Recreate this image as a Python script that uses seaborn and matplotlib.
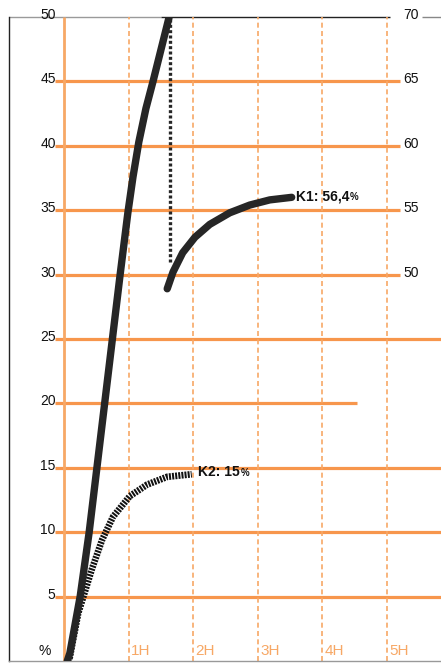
import numpy as np
import pandas as pd
import matplotlib
matplotlib.use("Agg")
import matplotlib.pyplot as plt
import seaborn as sns

# -----------------------------
# DATA
# -----------------------------

# left axis ticks (%), right axis ticks shown for the upper part
left_ticks = [5, 10, 15, 20, 25, 30, 35, 40, 45, 50]
right_ticks = [50, 55, 60, 65, 70]          # right scale = left + 20
right_offset = 20
hours = [1, 2, 3, 4, 5]
hour_labels = ["1H", "2H", "3H", "4H", "5H"]

# K1 first part (left scale)
k1a_h = [0.05, 0.09, 0.25, 0.39, 0.51, 0.63, 0.75, 0.87, 0.99, 1.07, 1.16, 1.27, 1.38, 1.50, 1.63]
k1a_y = [0, 0.6, 5, 10, 15, 20, 25, 30, 34.8, 37.6, 40.3, 42.9, 45.0, 47.4, 50]

# K1 second part (right scale, 50..56.4)
k1b_h = [1.60, 1.69, 1.84, 2.03, 2.26, 2.57, 2.88, 3.19, 3.53]
k1b_y = [48.9, 50.2, 51.7, 52.9, 53.9, 54.8, 55.4, 55.8, 56.0]

# K2 (left scale)
k2_h = [0.06, 0.09, 0.22, 0.30, 0.43, 0.59, 0.76, 1.02, 1.29, 1.60, 1.98]
k2_y = [0, 0.3, 3.7, 5.0, 7.1, 9.4, 11.2, 12.8, 13.7, 14.3, 14.5]

orange = "#F7964C"
orange_light = "#F7A866"
dark = "#262626"

# -----------------------------
# FIGURE
# -----------------------------

sns.set_style("white")
plt.rcParams["font.family"] = ["Liberation Sans", "DejaVu Sans"]

fig = plt.figure(figsize=(4.41, 6.63), dpi=100)
ax = fig.add_axes([9 / 441, 2 / 663, 432 / 441, 644 / 663])

x0 = -0.853
x1 = 5.845
ax.set_xlim(x0, x1)
ax.set_ylim(0, 50)
ax.set_xticks([])
ax.set_yticks([])

for s in ["top", "right"]:
    ax.spines[s].set_visible(False)
ax.spines["left"].set_color("#222222")
ax.spines["left"].set_linewidth(1.0)
ax.spines["bottom"].set_color("#999999")
ax.spines["bottom"].set_linewidth(1.0)

# horizontal grid lines
line_end = {5: x1, 10: x1, 15: x1, 20: 4.54, 25: x1, 30: 5.21, 35: 5.21, 40: 5.21, 45: 5.21}
for v in left_ticks[:-1]:
    ax.hlines(v, -0.14, line_end[v], color=orange, lw=2.3, zorder=1)

# top line
ax.hlines(50, x0, 1.5, color="#9a9a9a", lw=1.0, zorder=1, clip_on=False)
ax.hlines(50, 1.5, 5.05, color="#222222", lw=1.0, zorder=1, clip_on=False)
ax.hlines(50, 5.55, x1, color="#888888", lw=1.0, zorder=1, clip_on=False)

# vertical lines
ax.vlines(0, 0, 50, color=orange_light, lw=2.0, zorder=1)
for h in hours:
    ax.vlines(h, 0, 50, color=orange_light, lw=1.2, linestyles=(0, (3, 2)), zorder=1)

# dotted separator for K1
ax.vlines(1.645, 31, 50, color=dark, lw=2.4, linestyles=(0, (0.9, 0.7)), zorder=3)

# curves
sns.lineplot(x=k1a_h, y=k1a_y, sort=False, estimator=None, color=dark, lw=5.3, ax=ax, zorder=4)
sns.lineplot(x=k1b_h, y=np.array(k1b_y) - right_offset, sort=False, estimator=None,
             color=dark, lw=5.3, ax=ax, zorder=4)
k2_line = sns.lineplot(x=k2_h, y=k2_y, sort=False, estimator=None, color="#111111", lw=4.8, ax=ax, zorder=3)
k2_line.lines[-1].set_linestyle((0, (0.3, 0.17)))
k2_line.lines[-1].set_solid_capstyle("butt")

# labels
for v in left_ticks:
    ax.text(-0.13, v + 0.15, str(v), ha="right", va="center", fontsize=10, color="#111111", clip_on=False)
for v in right_ticks:
    ax.text(5.26, v - right_offset + 0.15, str(v), ha="left", va="center", fontsize=10,
            color="#111111", clip_on=False)
for h, lab in zip(hours, hour_labels):
    ax.text(h + 0.04, 0.75, lab, ha="left", va="center", fontsize=11, color=orange_light)
ax.text(-0.2, 0.75, "%", ha="right", va="center", fontsize=10, color="#111111")

ax.text(3.6, 36.1, "K1: 56,4", ha="left", va="center", fontsize=10, fontweight="bold", color="#111111")
ax.text(4.43, 36.0, "%", ha="left", va="center", fontsize=7, fontweight="bold", color="#111111")
ax.text(2.07, 14.7, "K2: 15", ha="left", va="center", fontsize=10, fontweight="bold", color="#111111")
ax.text(2.74, 14.6, "%", ha="left", va="center", fontsize=7, fontweight="bold", color="#111111")

fig.savefig("out.png", dpi=100)
